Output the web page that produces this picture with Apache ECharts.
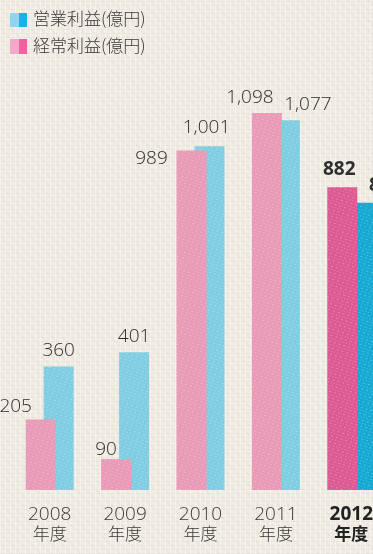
<!DOCTYPE html>
<html>
<head>
<meta charset="utf-8">
<script src="https://cdn.jsdelivr.net/npm/echarts@6/dist/echarts.min.js"></script>
<style>
  html, body { margin: 0; padding: 0; }
  body {
    width: 373px; height: 554px; overflow: hidden;
    background-color: #f1ede4;
    background-image:
      repeating-linear-gradient(0deg, rgba(120,110,90,0.05) 0 1px, transparent 1px 4px),
      repeating-linear-gradient(90deg, rgba(255,255,255,0.45) 0 1px, transparent 1px 5px),
      repeating-linear-gradient(45deg, rgba(120,110,90,0.04) 0 2px, transparent 2px 7px);
  }
  /* the plot runs past the right edge of the page and is clipped there */
  #chart { width: 395px; height: 554px; }
</style>
</head>
<body>
<div id="chart"></div>
<script>
// Fiscal years and profits (100 million yen)
const years = ['2008', '2009', '2010', '2011', '2012'];
const operatingProfit = [360, 401, 1001, 1077, 837];   // 営業利益
const ordinaryProfit = [205, 90, 989, 1098, 882];      // 経常利益

// label nudges [dx, dy] so neighbouring value labels do not collide
const ordinaryLabelShift = [[-25, 1], [-10, 5], [-40, 23], [-17, -1], [-3, -3]];
const operatingLabelShift = [[0, -1], [0, -1], [-3, -4], [23, -1], [25, -3]];

const FONT = "'Open Sans', 'Noto Sans CJK JP', sans-serif";
const LAST = years.length - 1;

const blueLight = '#80cde2', blueStrong = '#15a8d2';
const pinkLight = '#e99ab6', pinkStrong = '#dc5992';

const texture = {
  symbol: 'rect',
  symbolSize: 1,
  color: 'rgba(255,255,255,0.28)',
  dashArrayX: [[1, 2], [2, 3]],
  dashArrayY: [1, 2],
  rotation: 0.3
};

function fmt(v) {
  return v.toLocaleString('en-US');
}

function buildData(values, shifts, light, strong) {
  return values.map((v, i) => ({
    value: v,
    itemStyle: { color: i === LAST ? strong : light },
    label: {
      offset: shifts[i],
      fontWeight: i === LAST ? 'bold' : 300,
      fontSize: 19
    }
  }));
}

const chart = echarts.init(document.getElementById('chart'), null, { renderer: 'canvas' });

chart.setOption({
  backgroundColor: 'transparent',
  animation: false,
  grid: { left: 12, width: 377, top: 78, bottom: 64, outerBoundsMode: 'none' },
  xAxis: {
    type: 'category',
    data: years,
    axisLine: { show: false },
    axisTick: { show: false },
    axisLabel: {
      margin: 15,
      interval: 0,
      fontFamily: FONT,
      color: '#3a3a3a',
      formatter: (v, i) => i === LAST ? '{b|' + v + '}\n{bk|年度}' : '{n|' + v + '}\n{nk|年度}',
      rich: {
        n: { fontFamily: FONT, fontSize: 19, fontWeight: 300, color: '#3a3a3a', lineHeight: 20 },
        nk: { fontFamily: FONT, fontSize: 17, fontWeight: 300, color: '#3a3a3a', lineHeight: 20 },
        b: { fontFamily: FONT, fontSize: 19, fontWeight: 'bold', color: '#222', lineHeight: 20 },
        bk: { fontFamily: FONT, fontSize: 17, fontWeight: 'bold', color: '#222', lineHeight: 20 }
      }
    }
  },
  yAxis: {
    type: 'value',
    min: 0,
    max: 1200,
    show: false,
    splitLine: { show: false }
  },
  series: [
    {
      name: '経常利益(億円)',
      type: 'bar',
      z: 3,
      barWidth: 30,
      barGap: '-40%',
      data: buildData(ordinaryProfit, ordinaryLabelShift, pinkLight, pinkStrong),
      itemStyle: { decal: texture },
      label: {
        show: true,
        position: 'top',
        distance: 5,
        fontFamily: FONT,
        color: '#2e2e2e',
        formatter: p => fmt(p.value)
      }
    },
    {
      name: '営業利益(億円)',
      type: 'bar',
      z: 2,
      barWidth: 30,
      barGap: '-40%',
      data: buildData(operatingProfit, operatingLabelShift, blueLight, blueStrong),
      itemStyle: { decal: texture },
      label: {
        show: true,
        position: 'top',
        distance: 5,
        fontFamily: FONT,
        color: '#2e2e2e',
        formatter: p => fmt(p.value)
      }
    }
  ],
  graphic: [
    // legend: two-tone swatches with captions
    { type: 'rect', left: 10, top: 13, shape: { width: 9, height: 14 }, style: { fill: '#8fd4f0' } },
    { type: 'rect', left: 19, top: 13, shape: { width: 8, height: 14 }, style: { fill: '#13b4e6' } },
    { type: 'text', left: 33, top: 10, style: { text: '営業利益(億円)', font: "300 17px 'Noto Sans CJK JP', sans-serif", fill: '#3a3a3a' } },
    { type: 'rect', left: 10, top: 39, shape: { width: 9, height: 15 }, style: { fill: '#f3a9c7' } },
    { type: 'rect', left: 19, top: 39, shape: { width: 8, height: 15 }, style: { fill: '#ee62a1' } },
    { type: 'text', left: 33, top: 37, style: { text: '経常利益(億円)', font: "300 17px 'Noto Sans CJK JP', sans-serif", fill: '#3a3a3a' } }
  ]
});
</script>
</body>
</html>
